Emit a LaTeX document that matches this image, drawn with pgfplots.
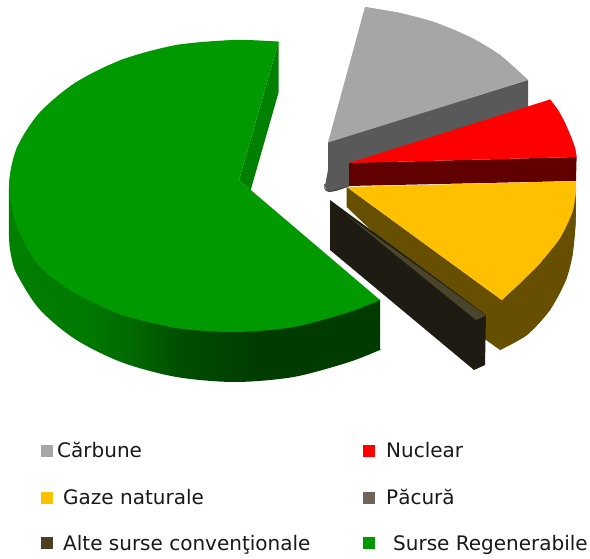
\documentclass[border=0pt]{standalone}
\usepackage{pgfplots}
\pgfplotsset{compat=1.18}
\usepackage{fontspec}
\setmainfont{DejaVu Sans}
\definecolor{gtop}{HTML}{009900}
\definecolor{gin}{HTML}{008000}
\definecolor{cgray}{HTML}{A6A6A6}
\definecolor{cgrayside}{HTML}{595959}
\definecolor{cred}{HTML}{FF0000}
\definecolor{credside}{HTML}{600000}
\definecolor{cyel}{HTML}{FFC000}
\definecolor{cyelside}{HTML}{665000}
\definecolor{cdark}{HTML}{1E1B12}
\definecolor{csliver}{HTML}{4A452A}
\definecolor{cpac}{HTML}{706357}
\definecolor{calte}{HTML}{4A3F24}
\definecolor{ga}{HTML}{008000}
\definecolor{gb}{HTML}{007800}
\definecolor{gc}{HTML}{006600}
\definecolor{gd}{HTML}{004D00}
\definecolor{ge}{HTML}{003C00}
\pgfdeclarehorizontalshading{greenside}{100bp}{
 color(0bp)=(ga);
 color(25bp)=(ga);
 color(36bp)=(gb);
 color(42bp)=(gc);
 color(48bp)=(gd);
 color(58bp)=(ge);
 color(100bp)=(ge)}
\begin{document}
\begin{tikzpicture}
\begin{axis}[
  hide axis, scale only axis, width=590pt, height=559pt,
  xmin=0, xmax=590, ymin=0, ymax=559, y dir=reverse, clip=false,
  every axis plot/.append style={line width=0pt, draw=none},
]
% canvas
\addplot[fill=white] coordinates {(0,0) (590,0) (590,559) (0,559)} --cycle;
% green side wall
\addplot[shading=greenside, shading angle=0, smooth] coordinates {
 (9,186) (9,236) (11,255) (16.7,273.8) (39.3,309) (75.2,339.2) (122,362.4) (176.5,377) (235,382) (293.5,377) (348,362.4) (379.5,350.2) (380,350) (380,349) (380,300)} --cycle;
% green inner wall
\addplot[fill=gin] coordinates {(278.7,41.7) (278.7,92) (250.7,190) (239,180)} --cycle;
% green top
\addplot[fill=gtop] coordinates {
 (278.7,41.7) (235,40) (176.5,45) (122,59.6) (75.2,82.8) (39.3,113) (16.7,148.2) (9,186)
 (16.7,225.8) (39.3,266) (75.2,293) (122,315) (176.5,328) (235,332) (293.5,327) (348,312.4) (380,300)
 (239,180)} --cycle;
\addplot[fill=gtop, smooth] coordinates {
 (278.7,41.7) (235,40) (176.5,45) (122,59.6) (75.2,82.8) (39.3,113) (16.7,148.2) (9,186)
 (16.7,225.8) (39.3,266) (75.2,293) (122,315) (176.5,328)};
\addplot[fill=gtop, smooth] coordinates {
 (122,315) (176.5,328) (235,332) (293.5,327) (348,312.4) (380,300)};
% grey side
\addplot[fill=cgrayside] coordinates {(328,142) (528,80) (528,125) (349,175) (349,186) (335,191) (327,191) (325,186) (328,170)} --cycle;
\addplot[draw=black!75, line width=1pt, smooth] coordinates {(325,184) (325,189) (329,191.5) (337,190) (349,186)};
% grey top
\addplot[fill=cgray] coordinates {(365,7) (400,13) (435,22.4) (470,37) (500,55) (528,80) (328,142.5)} --cycle;
\addplot[fill=cgray, smooth] coordinates {(365,7) (400,13) (435,22.4) (470,37) (500,55) (528,80)};
% yellow side
\addplot[fill=cyelside] coordinates {(346.7,187) (501.7,300) (520,283) (540,263) (560,238) (572,213) (576,190) (575.5,225) (572.5,255) (566,280) (550,310) (527,335) (500,350) (486,340) (346.7,207)} --cycle;
\addplot[fill=cyelside, smooth] coordinates {(576,190) (575.5,225) (572.5,255) (566,280) (550,310) (527,335) (500,350)};
% red side
\addplot[fill=credside] coordinates {(349,163) (576.6,157) (576,181) (349,186)} --cycle;
% red top
\addplot[fill=cred] coordinates {(349,163) (550,99.5) (558,110) (565,123) (571,137) (575,148) (576.6,157)} --cycle;
\addplot[fill=cred, smooth] coordinates {(550,99.5) (558,110) (565,123) (571,137) (575,148) (576.6,157)};
% yellow top
\addplot[fill=cyel] coordinates {(346.7,187) (576,181) (575.5,195) (572,213) (560,238) (540,263) (520,283) (501.7,300)} --cycle;
\addplot[fill=cyel, smooth] coordinates {(576,181) (575.5,195) (572,213) (560,238) (540,263) (520,283) (501.7,300)};
% dark slice
\addplot[fill=cdark] coordinates {(330,200) (486,315) (485,365) (474,370) (330,250)} --cycle;
\addplot[fill=csliver] coordinates {(345,214) (486,315.5) (476,320)} --cycle;
% legend
\addplot[only marks, mark=square*, mark size=5.5pt, mark options={fill=cgray,draw=cgray}] coordinates {(46.5,451)};
\addplot[only marks, mark=square*, mark size=5.5pt, mark options={fill=cred,draw=cred}] coordinates {(369,451)};
\addplot[only marks, mark=square*, mark size=5.5pt, mark options={fill=cyel,draw=cyel}] coordinates {(46.5,498)};
\addplot[only marks, mark=square*, mark size=5.5pt, mark options={fill=cpac,draw=cpac}] coordinates {(369,498)};
\addplot[only marks, mark=square*, mark size=5.5pt, mark options={fill=calte,draw=calte}] coordinates {(46.5,543)};
\addplot[only marks, mark=square*, mark size=5.5pt, mark options={fill=gtop,draw=gtop}] coordinates {(369,543)};
\begin{scope}[every node/.style={anchor=base west, inner sep=0pt, font=\fontsize{20}{22}\selectfont, text=black!90}]
\node at (axis cs:57,457) {Cărbune};
\node at (axis cs:386,457) {Nuclear};
\node at (axis cs:63,504) {Gaze naturale};
\node at (axis cs:386,504) {Păcură};
\node at (axis cs:63,550) {Alte surse convenţionale};
\node at (axis cs:393,550) {Surse Regenerabile};
\end{scope}
\end{axis}
\end{tikzpicture}
\end{document}
